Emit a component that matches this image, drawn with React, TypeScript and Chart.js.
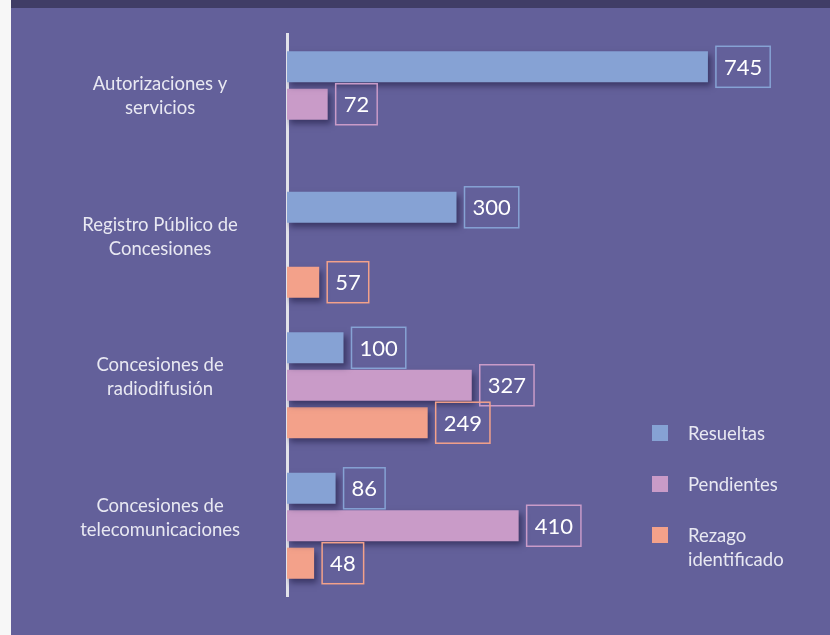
import React, { useEffect, useRef } from "react";
import { Chart, registerables } from "chart.js";

Chart.register(...registerables);

const categories: string[][] = [
  ["Autorizaciones y", "servicios"],
  ["Registro Público de", "Concesiones"],
  ["Concesiones de", "radiodifusión"],
  ["Concesiones de", "telecomunicaciones"],
];
const resueltas: (number | null)[] = [745, 300, 100, 86];
const pendientes: (number | null)[] = [72, null, 327, 410];
const rezago: (number | null)[] = [null, 57, 249, 48];
const seriesLabels: string[][] = [["Resueltas"], ["Pendientes"], ["Rezago", "identificado"]];
const seriesColors = ["#86a2d4", "#c99bc8", "#f3a18a"];

const FONT = "Lato, 'Open Sans', sans-serif";
const TEXT = "#e8e8f2";

const shadowPlugin = {
  id: "barShadow",
  beforeDatasetDraw(chart: any) {
    const ctx = chart.ctx;
    ctx.save();
    ctx.shadowColor = "rgba(25,22,60,0.55)";
    ctx.shadowBlur = 6;
    ctx.shadowOffsetX = 3;
    ctx.shadowOffsetY = 4;
  },
  afterDatasetDraw(chart: any) {
    chart.ctx.restore();
  },
};

const valueBoxPlugin = {
  id: "valueBoxes",
  afterDatasetsDraw(chart: any) {
    const ctx = chart.ctx;
    ctx.save();
    chart.data.datasets.forEach((ds: any, di: number) => {
      const meta = chart.getDatasetMeta(di);
      meta.data.forEach((el: any, i: number) => {
        const v = ds.data[i];
        if (v === null || v === undefined) return;
        const text = String(v);
        ctx.font = `22px ${FONT}`;
        const tw = ctx.measureText(text).width;
        const w = tw + 16;
        const h = 41;
        const x = el.x + 8;
        const y = el.y - h / 2;
        ctx.strokeStyle = ds.borderBoxColor;
        ctx.lineWidth = 1.5;
        ctx.strokeRect(x, y, w, h);
        ctx.fillStyle = "#ffffff";
        ctx.textAlign = "center";
        ctx.textBaseline = "middle";
        ctx.fillText(text, x + w / 2, el.y + 1);
      });
    });
    ctx.restore();
  },
};

const legendPlugin = {
  id: "sideLegend",
  afterDraw(chart: any) {
    const ctx = chart.ctx;
    ctx.save();
    const x0 = 641;
    const y0 = 425;
    const step = 51;
    chart.data.datasets.forEach((ds: any, di: number) => {
      const cy = y0 + di * step;
      ctx.fillStyle = ds.backgroundColor;
      ctx.fillRect(x0, cy - 8, 16, 16);
      ctx.fillStyle = TEXT;
      ctx.font = `18.5px ${FONT}`;
      ctx.textAlign = "left";
      ctx.textBaseline = "middle";
      const lines: string[] = seriesLabels[di];
      lines.forEach((ln, li) => ctx.fillText(ln, x0 + 36, cy + 1 + li * 24));
    });
    ctx.restore();
  },
};

export default function App() {
  const ref = useRef<HTMLCanvasElement | null>(null);
  useEffect(() => {
    document.body.style.margin = "0";
    if (!ref.current) return;
    const mk = (label: string, data: (number | null)[], i: number) => ({
      label,
      data,
      backgroundColor: seriesColors[i],
      borderBoxColor: seriesColors[i],
      borderWidth: 0,
      categoryPercentage: 0.8,
      barPercentage: 0.83,
    });
    const chart = new Chart(ref.current, {
      type: "bar",
      data: {
        labels: categories,
        datasets: [
          mk("Resueltas", resueltas, 0),
          mk("Pendientes", pendientes, 1),
          mk("Rezago identificado", rezago, 2),
        ] as any,
      },
      options: {
        indexAxis: "y",
        animation: false,
        responsive: false,
        maintainAspectRatio: false,
        layout: { padding: { left: 0, top: 26, bottom: 39, right: 91 } },
        plugins: {
          legend: { display: false },
          tooltip: { enabled: false },
        },
        scales: {
          x: { display: false, min: 0, max: 800 },
          y: {
            grid: { display: false, drawTicks: false },
            border: { display: true, color: "#e2e2ea", width: 3 },
            afterFit: (s: any) => {
              s.width = 276;
              s.paddingTop = 0;
              s.paddingBottom = 0;
            },
            ticks: {
              color: TEXT,
              font: { family: FONT, size: 18.5, lineHeight: 1.3 },
              crossAlign: "center",
              padding: 47,
              labelOffset: -8,
            },
          },
        },
      },
      plugins: [shadowPlugin, valueBoxPlugin, legendPlugin],
    });
    return () => chart.destroy();
  }, []);
  return (
    <div style={{ position: "relative", width: 830, height: 635, background: "#f7f7f7", overflow: "hidden" }}>
      <div style={{ position: "absolute", left: 11, top: 0, width: 819, height: 635, background: "#63609a" }}>
        <div style={{ position: "absolute", left: 0, top: 0, width: 819, height: 8, background: "#403d66" }} />
        <canvas ref={ref} width={819} height={627} style={{ position: "absolute", left: 0, top: 8 }} />
      </div>
    </div>
  );
}
